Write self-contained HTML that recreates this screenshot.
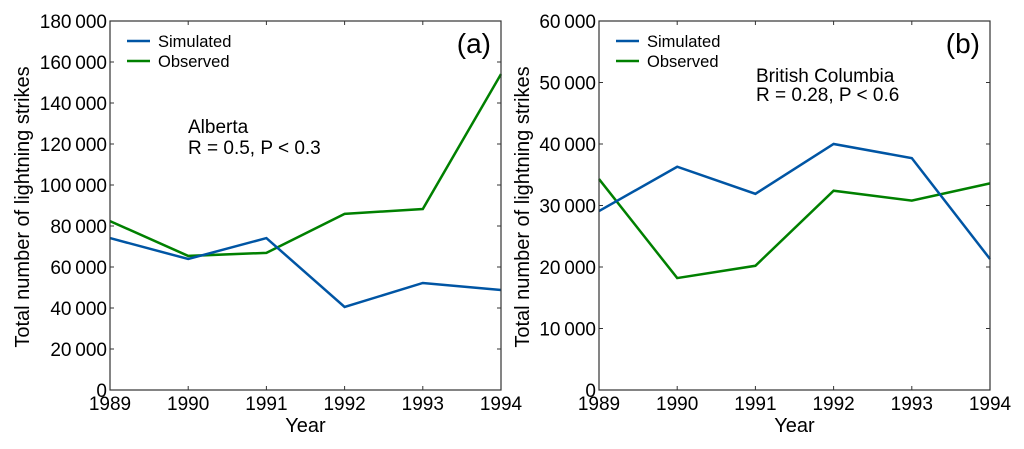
<!DOCTYPE html>
<html><head><meta charset="utf-8"><style>
body{margin:0;background:#fff;}
svg text{font-family:"Liberation Sans","DejaVu Sans",sans-serif;fill:#000;}
</style></head><body>
<svg id="chart" width="1024" height="444" viewBox="0 0 1024 444"></svg>
<script>
const years=[1989,1990,1991,1992,1993,1994];
const simA=[74100,63900,74100,40500,52200,48800];
const obsA=[82400,65400,66900,85900,88300,154100];
const simB=[29100,36300,31900,40000,37700,21300];
const obsB=[34300,18200,20200,32400,30800,33600];
const ticksA=[0,20000,40000,60000,80000,100000,120000,140000,160000,180000];
const ticksB=[0,10000,20000,30000,40000,50000,60000];
const NS='http://www.w3.org/2000/svg';
const svg=document.getElementById('chart');
function mk(tag,attrs,parent,name){const e=document.createElementNS(NS,tag);for(const k in attrs)e.setAttribute(k,attrs[k]);


(parent||svg).appendChild(e);return e;}
function fmt(v){const s=String(v);return s.length>3?s.slice(0,-3)+'\u2009'+s.slice(-3):s;}
function panel(id,L,R,ymax,ticks,sim,obs,label,ann,titleX){
 const T=21,B=390;
 const g=mk('g',{},svg,'panel-'+id);
 const x=i=>L+(years[i]-years[0])/(years[years.length-1]-years[0])*(R-L);
 const y=v=>B-v/ymax*(B-T);
 ticks.forEach(t=>{const yy=y(t);
  mk('line',{x1:L,x2:L+4,y1:yy,y2:yy,stroke:'#333'},g,'y-tick');
  mk('line',{x1:R-4,x2:R,y1:yy,y2:yy,stroke:'#333'},g,'y-tick-right');
  const tx=mk('text',{x:L-3,y:yy+7,'text-anchor':'end','font-size':'19'},g,'y-tick-label');tx.textContent=fmt(t);});
 years.forEach((yr,i)=>{const xx=x(i);
  mk('line',{x1:xx,x2:xx,y1:B,y2:B-4,stroke:'#333'},g,'x-tick');
  mk('line',{x1:xx,x2:xx,y1:T,y2:T+4,stroke:'#333'},g,'x-tick-top');
  const tx=mk('text',{x:xx,y:B+20,'text-anchor':'middle','font-size':'19'},g,'x-tick-label');tx.textContent=yr;});
 const pts=a=>a.map((v,i)=>x(i)+','+y(v)).join(' ');
 mk('polyline',{points:pts(obs),fill:'none',stroke:'#008000','stroke-width':2.5},g,'observed-line');
 mk('polyline',{points:pts(sim),fill:'none',stroke:'#0055a4','stroke-width':2.5},g,'simulated-line');
 mk('rect',{x:L,y:T,width:R-L,height:B-T,fill:'none',stroke:'#333','stroke-width':1.2},g,'plot-frame');
 mk('line',{x1:L+17,x2:L+40,y1:41,y2:41,stroke:'#0055a4','stroke-width':2.5},g,'legend-simulated-swatch');
 let t=mk('text',{x:L+48,y:47,'font-size':'16.5'},g,'legend-simulated');t.textContent='Simulated';
 mk('line',{x1:L+17,x2:L+40,y1:61,y2:61,stroke:'#008000','stroke-width':2.5},g,'legend-observed-swatch');
 t=mk('text',{x:L+48,y:67,'font-size':'16.5'},g,'legend-observed');t.textContent='Observed';
 t=mk('text',{x:R-10,y:53,'text-anchor':'end','font-size':'28'},g,'panel-label');t.textContent=label;
 ann.forEach((a,i)=>{t=mk('text',{x:a[0],y:a[1],'font-size':'19'},g,'annotation');t.textContent=a[2];});
 t=mk('text',{x:(L+R)/2,y:432,'text-anchor':'middle','font-size':'20'},g,'x-axis-title');t.textContent='Year';
 t=mk('text',{x:0,y:0,'text-anchor':'middle','font-size':'20',transform:'translate('+(titleX+7)+',207) rotate(-90)'},g,'y-axis-title');t.textContent='Total number of lightning strikes';
}
panel('a',110,501,180000,ticksA,simA,obsA,'(a)',[[188,133,'Alberta'],[188,154,'R = 0.5,  P < 0.3']],22);
panel('b',599,990,60000,ticksB,simB,obsB,'(b)',[[756,82,'British Columbia'],[756,101,'R = 0.28,  P < 0.6']],522);
</script>
</body></html>
